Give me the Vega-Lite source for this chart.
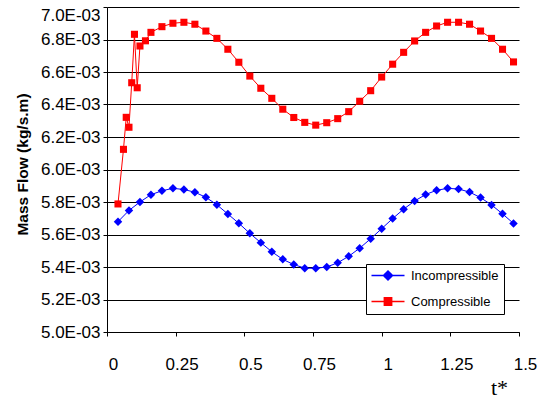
{
  "$schema": "https://vega.github.io/schema/vega-lite/v6.json",
  "width": 412,
  "height": 325,
  "autosize": {"type": "none"},
  "padding": {"left": 107, "top": 7, "right": 27, "bottom": 67},
  "background": "white",
  "config": {"view": {"stroke": null}, "font": "Liberation Sans"},
  "data": {
    "values": [
      {"t": 0.04, "v": 0.005679, "series": "Incompressible"},
      {"t": 0.08, "v": 0.005748, "series": "Incompressible"},
      {"t": 0.12, "v": 0.005800, "series": "Incompressible"},
      {"t": 0.16, "v": 0.005845, "series": "Incompressible"},
      {"t": 0.20, "v": 0.005869, "series": "Incompressible"},
      {"t": 0.24, "v": 0.005884, "series": "Incompressible"},
      {"t": 0.28, "v": 0.005877, "series": "Incompressible"},
      {"t": 0.32, "v": 0.005860, "series": "Incompressible"},
      {"t": 0.36, "v": 0.005829, "series": "Incompressible"},
      {"t": 0.40, "v": 0.005783, "series": "Incompressible"},
      {"t": 0.44, "v": 0.005726, "series": "Incompressible"},
      {"t": 0.48, "v": 0.005669, "series": "Incompressible"},
      {"t": 0.52, "v": 0.005607, "series": "Incompressible"},
      {"t": 0.56, "v": 0.005550, "series": "Incompressible"},
      {"t": 0.60, "v": 0.005494, "series": "Incompressible"},
      {"t": 0.64, "v": 0.005447, "series": "Incompressible"},
      {"t": 0.68, "v": 0.005415, "series": "Incompressible"},
      {"t": 0.72, "v": 0.005393, "series": "Incompressible"},
      {"t": 0.76, "v": 0.005392, "series": "Incompressible"},
      {"t": 0.80, "v": 0.005400, "series": "Incompressible"},
      {"t": 0.84, "v": 0.005426, "series": "Incompressible"},
      {"t": 0.88, "v": 0.005466, "series": "Incompressible"},
      {"t": 0.92, "v": 0.005516, "series": "Incompressible"},
      {"t": 0.96, "v": 0.005574, "series": "Incompressible"},
      {"t": 1.00, "v": 0.005636, "series": "Incompressible"},
      {"t": 1.04, "v": 0.005698, "series": "Incompressible"},
      {"t": 1.08, "v": 0.005756, "series": "Incompressible"},
      {"t": 1.12, "v": 0.005806, "series": "Incompressible"},
      {"t": 1.16, "v": 0.005846, "series": "Incompressible"},
      {"t": 1.20, "v": 0.005872, "series": "Incompressible"},
      {"t": 1.24, "v": 0.005884, "series": "Incompressible"},
      {"t": 1.28, "v": 0.005880, "series": "Incompressible"},
      {"t": 1.32, "v": 0.005861, "series": "Incompressible"},
      {"t": 1.36, "v": 0.005827, "series": "Incompressible"},
      {"t": 1.40, "v": 0.005782, "series": "Incompressible"},
      {"t": 1.44, "v": 0.005727, "series": "Incompressible"},
      {"t": 1.48, "v": 0.005668, "series": "Incompressible"},
      {"t": 0.04, "v": 0.005788, "series": "Compressible"},
      {"t": 0.06, "v": 0.006124, "series": "Compressible"},
      {"t": 0.07, "v": 0.006321, "series": "Compressible"},
      {"t": 0.08, "v": 0.006260, "series": "Compressible"},
      {"t": 0.09, "v": 0.006534, "series": "Compressible"},
      {"t": 0.10, "v": 0.006832, "series": "Compressible"},
      {"t": 0.11, "v": 0.006503, "series": "Compressible"},
      {"t": 0.12, "v": 0.006760, "series": "Compressible"},
      {"t": 0.14, "v": 0.006792, "series": "Compressible"},
      {"t": 0.16, "v": 0.006844, "series": "Compressible"},
      {"t": 0.20, "v": 0.006879, "series": "Compressible"},
      {"t": 0.24, "v": 0.006900, "series": "Compressible"},
      {"t": 0.28, "v": 0.006906, "series": "Compressible"},
      {"t": 0.32, "v": 0.006894, "series": "Compressible"},
      {"t": 0.36, "v": 0.006852, "series": "Compressible"},
      {"t": 0.40, "v": 0.006807, "series": "Compressible"},
      {"t": 0.44, "v": 0.006740, "series": "Compressible"},
      {"t": 0.48, "v": 0.006660, "series": "Compressible"},
      {"t": 0.52, "v": 0.006575, "series": "Compressible"},
      {"t": 0.56, "v": 0.006500, "series": "Compressible"},
      {"t": 0.60, "v": 0.006438, "series": "Compressible"},
      {"t": 0.64, "v": 0.006371, "series": "Compressible"},
      {"t": 0.68, "v": 0.006320, "series": "Compressible"},
      {"t": 0.72, "v": 0.006290, "series": "Compressible"},
      {"t": 0.76, "v": 0.006273, "series": "Compressible"},
      {"t": 0.80, "v": 0.006288, "series": "Compressible"},
      {"t": 0.84, "v": 0.006313, "series": "Compressible"},
      {"t": 0.88, "v": 0.006356, "series": "Compressible"},
      {"t": 0.92, "v": 0.006420, "series": "Compressible"},
      {"t": 0.96, "v": 0.006485, "series": "Compressible"},
      {"t": 1.00, "v": 0.006569, "series": "Compressible"},
      {"t": 1.04, "v": 0.006648, "series": "Compressible"},
      {"t": 1.08, "v": 0.006721, "series": "Compressible"},
      {"t": 1.12, "v": 0.006791, "series": "Compressible"},
      {"t": 1.16, "v": 0.006844, "series": "Compressible"},
      {"t": 1.20, "v": 0.006883, "series": "Compressible"},
      {"t": 1.24, "v": 0.006906, "series": "Compressible"},
      {"t": 1.28, "v": 0.006906, "series": "Compressible"},
      {"t": 1.32, "v": 0.006894, "series": "Compressible"},
      {"t": 1.36, "v": 0.006852, "series": "Compressible"},
      {"t": 1.40, "v": 0.006807, "series": "Compressible"},
      {"t": 1.44, "v": 0.006740, "series": "Compressible"},
      {"t": 1.48, "v": 0.006662, "series": "Compressible"}
    ]
  },
  "encoding": {
    "x": {
      "field": "t",
      "type": "quantitative",
      "scale": {"domain": [0, 1.5], "nice": false, "zero": false},
      "axis": {
        "title": "t*",
        "values": [0, 0.25, 0.5, 0.75, 1, 1.25, 1.5],
        "labelExpr": "format(datum.value, '.3~g')",
        "grid": false,
        "domainColor": "black",
        "domainWidth": 1,
        "tickColor": "black",
        "tickSize": 4,
        "labelFontSize": 17,
        "labelColor": "black",
        "labelFont": "Liberation Sans",
        "labelPadding": 20,
        "labelFlush": false,
        "labelOverlap": false,
        "labelOffset": 6,
        "titleFont": "Liberation Serif",
        "titleFontSize": 22,
        "titleFontWeight": "normal",
        "titleColor": "black",
        "titleX": 392,
        "titleY": 55,
        "titleBaseline": "middle",
        "titleAlign": "center"
      }
    },
    "y": {
      "field": "v",
      "type": "quantitative",
      "scale": {"domain": [0.005, 0.007], "nice": false, "zero": false},
      "axis": {
        "title": "Mass Flow (kg/s.m)",
        "values": [0.005, 0.0052, 0.0054, 0.0056, 0.0058, 0.006, 0.0062, 0.0064, 0.0066, 0.0068, 0.007],
        "labelExpr": "replace(upper(format(datum.value, '.1e')), 'E-', 'E-0')",
        "grid": true,
        "gridColor": "black",
        "gridWidth": 1,
        "gridOpacity": 1,
        "domainColor": "black",
        "tickColor": "black",
        "tickSize": 4,
        "labelFontSize": 17,
        "labelColor": "black",
        "labelFont": "Liberation Sans",
        "labelPadding": 3,
        "labelOverlap": false,
        "labelBaseline": {"expr": "datum.value > 0.00699 ? 'top' : 'middle'"},
        "titleFont": "Liberation Sans",
        "titleFontSize": 15.5,
        "titleFontWeight": "bold",
        "titleColor": "black",
        "titleAngle": -90,
        "titleX": -85,
        "titleY": 157,
        "titleBaseline": "middle",
        "titleAlign": "center"
      }
    }
  },
  "layer": [
    {
      "mark": {"type": "line", "strokeWidth": 1},
      "encoding": {
        "color": {
          "field": "series",
          "type": "nominal",
          "scale": {"domain": ["Incompressible", "Compressible"], "range": ["#0000ff", "#ff0000"]},
          "legend": {
            "title": null,
            "orient": "none",
            "legendX": 259,
            "legendY": 257,
            "direction": "vertical",
            "strokeColor": "black",
            "fillColor": "white",
            "padding": 5,
            "labelFontSize": 13,
            "labelColor": "black",
            "labelFont": "Liberation Sans",
            "symbolSize": 100,
            "symbolOffset": 10.5,
            "labelOffset": 16.5,
            "rowPadding": 11,
            "symbolStrokeWidth": 1.5,
            "encode": {
              "symbols": {
                "update": {
                  "shape": {"signal": "datum.value === 'Incompressible' ? 'M-3.3,0L3.3,0M0,-0.9L0.9,0L0,0.9L-0.9,0Z' : 'M-3.3,0L3.3,0M-0.73,-0.73L0.73,-0.73L0.73,0.73L-0.73,0.73Z'"},
                  "fill": {"signal": "datum.value === 'Incompressible' ? '#0000ff' : '#ff0000'"},
                  "stroke": {"signal": "datum.value === 'Incompressible' ? '#0000ff' : '#ff0000'"},
                  "strokeWidth": {"value": 1.5},
                  "fillOpacity": {"value": 1},
                  "strokeOpacity": {"value": 1},
                  "opacity": {"value": 1},
                  "size": {"value": 100}
                }
              }
            }
          }
        }
      }
    },
    {
      "transform": [{"filter": "datum.series === 'Incompressible'"}],
      "mark": {"type": "point", "filled": true, "opacity": 1, "shape": "diamond", "size": 72, "color": "#0000ff"},
      "encoding": {}
    },
    {
      "transform": [{"filter": "datum.series === 'Compressible'"}],
      "mark": {"type": "point", "filled": true, "opacity": 1, "shape": "square", "size": 50, "color": "#ff0000"},
      "encoding": {}
    }
  ]
}
